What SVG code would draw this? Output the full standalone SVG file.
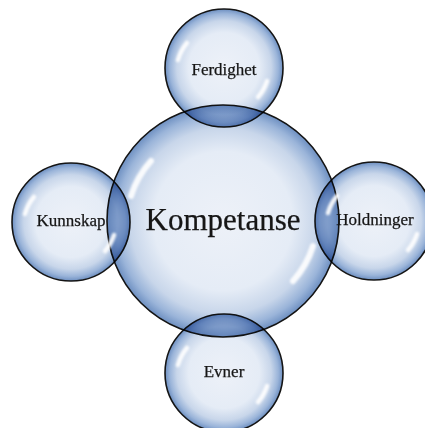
<svg xmlns="http://www.w3.org/2000/svg" width="425" height="428" viewBox="0 0 425 428">
  <defs>
    <radialGradient id="bubble" cx="0.5" cy="0.5" r="0.5">
      <stop offset="0" stop-color="#edf1f8"/>
      <stop offset="0.6" stop-color="#e5ecf6"/>
      <stop offset="0.8" stop-color="#c8d6ea"/>
      <stop offset="0.92" stop-color="#9ab4d9"/>
      <stop offset="1" stop-color="#6d8fc1"/>
    </radialGradient>
    <filter id="soft" x="-50%" y="-50%" width="200%" height="200%">
      <feGaussianBlur stdDeviation="1.3"/>
    </filter>
  </defs>
  <style>
    .ball { fill: url(#bubble); stroke: #141414; stroke-width: 1.6; mix-blend-mode: multiply; }
    .shine { fill: none; stroke: #ffffff; stroke-linecap: round; opacity: 0.9; filter: url(#soft); }
    .lbl { font-family: "Liberation Serif", "DejaVu Serif", serif; fill: #161616; stroke: #161616; stroke-width: 0.25; text-anchor: middle; }
    .small { font-size: 17px; }
    .big { font-size: 31px; }
  </style>
  <rect width="425" height="428" fill="#ffffff"/>

  <!-- central node -->
  <g id="kompetanse">
    <circle class="ball" cx="223" cy="221" r="116"/>
    <path class="shine" stroke-width="6" d="M 131 196 A 95 95 0 0 1 151 161"/>
    <path class="shine" stroke-width="6" d="M 313 246 A 95 95 0 0 1 293 281"/>
    <text class="lbl big" x="223" y="230">Kompetanse</text>
  </g>

  <!-- outer nodes -->
  <g id="ferdighet">
    <circle class="ball" cx="224" cy="68" r="59"/>
    <path class="shine" stroke-width="4.5" d="M 178 60 A 46 46 0 0 1 187 43"/>
    <path class="shine" stroke-width="4.5" d="M 267 81 A 46 46 0 0 1 258 97"/>
    <text class="lbl small" x="224" y="75">Ferdighet</text>
  </g>

  <g id="kunnskap">
    <circle class="ball" cx="71" cy="222" r="59"/>
    <path class="shine" stroke-width="4.5" d="M 25 214 A 46 46 0 0 1 34 197"/>
    <path class="shine" stroke-width="4.5" d="M 114 235 A 46 46 0 0 1 105 251"/>
    <text class="lbl small" x="71" y="226">Kunnskap</text>
  </g>

  <g id="holdninger">
    <circle class="ball" cx="374" cy="221" r="59"/>
    <path class="shine" stroke-width="4.5" d="M 328 213 A 46 46 0 0 1 337 196"/>
    <path class="shine" stroke-width="4.5" d="M 417 234 A 46 46 0 0 1 408 250"/>
    <text class="lbl small" x="375" y="225">Holdninger</text>
  </g>

  <g id="evner">
    <circle class="ball" cx="224" cy="373" r="59"/>
    <path class="shine" stroke-width="4.5" d="M 178 365 A 46 46 0 0 1 187 348"/>
    <path class="shine" stroke-width="4.5" d="M 267 386 A 46 46 0 0 1 258 402"/>
    <text class="lbl small" x="224" y="377">Evner</text>
  </g>

  <!-- no connectors: the outer nodes touch the central one directly -->
  <g id="connectors"/>
</svg>
